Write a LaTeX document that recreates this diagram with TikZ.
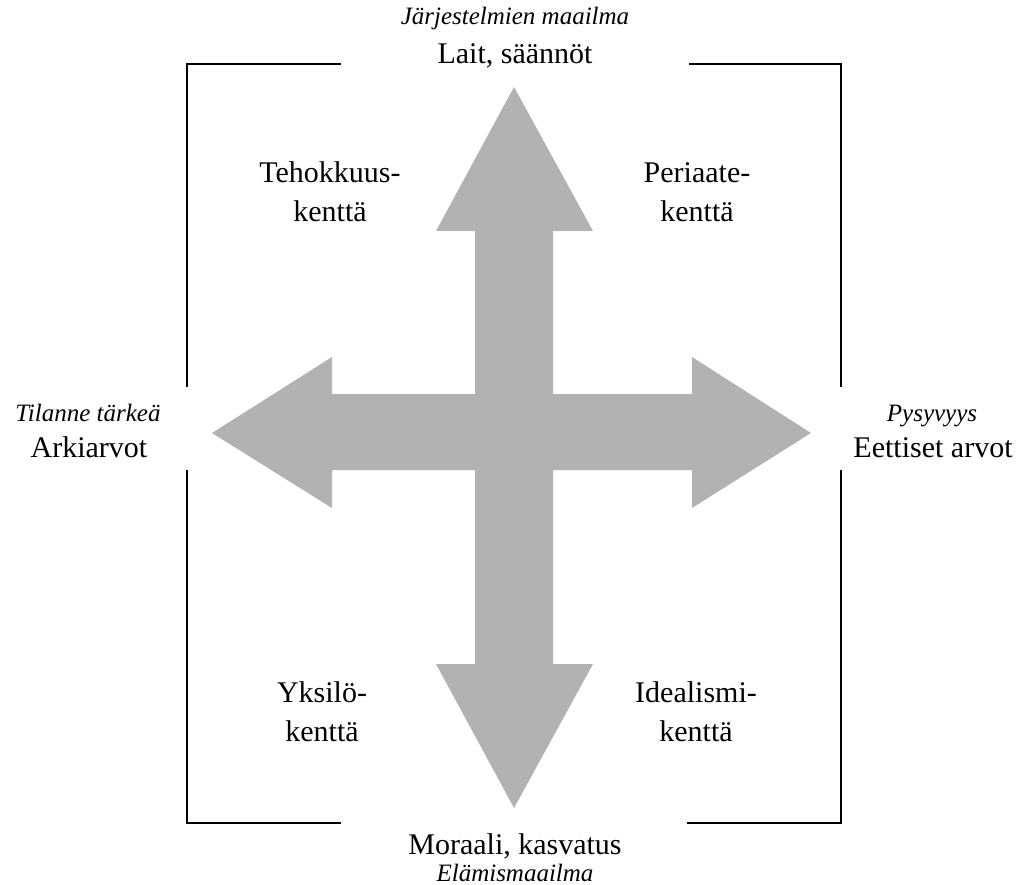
\documentclass[tikz,border=0pt]{standalone}
\usepackage{fontspec}
\setmainfont{Liberation Serif}
\begin{document}
\begin{tikzpicture}[x=1pt,y=-1pt,
  bigtxt/.style={inner sep=0pt,font=\fontsize{30}{39}\selectfont},
  smalltxt/.style={inner sep=0pt,font=\fontsize{25}{30}\selectfont\itshape},
  quad/.style={inner sep=0pt,align=center,font=\fontsize{30}{39}\selectfont},
  bracket/.style={line width=2.5pt,line join=miter}]
\useasboundingbox (0,0) rectangle (1022,885);
% cross of four arrows
\fill[black!30]
  (514,87) -- (593,231) -- (553,231) -- (553,394) -- (692,394) -- (692,357)
  -- (811,433) -- (692,508) -- (692,470) -- (553,470) -- (553,664) -- (593,664)
  -- (514,808) -- (436,664) -- (475,664) -- (475,470) -- (332,470) -- (332,508)
  -- (212,433) -- (332,357) -- (332,394) -- (475,394) -- (475,231) -- (436,231)
  -- cycle;
% brackets
\draw[bracket] (341,64) -- (187,64) -- (187,387);
\draw[bracket] (689,64) -- (841,64) -- (841,387);
\draw[bracket] (187,470) -- (187,823) -- (341,823);
\draw[bracket] (687,823) -- (841,823) -- (841,470);
% top
\node[smalltxt,anchor=base] (topsub) at (515,25) {Järjestelmien maailma};
\node[bigtxt,anchor=base] (top) at (515,64) {Lait, säännöt};
% bottom
\node[bigtxt,anchor=base] (bot) at (515,854) {Moraali, kasvatus};
\node[smalltxt,anchor=base] (botsub) at (515,881) {Elämismaailma};
% left
\node[smalltxt,anchor=base] (leftsub) at (88,421) {Tilanne tärkeä};
\node[bigtxt,anchor=base] (left) at (89,457) {Arkiarvot};
% right
\node[smalltxt,anchor=base] (rightsub) at (932,421) {Pysyvyys};
\node[bigtxt,anchor=base] (right) at (933,457) {Eettiset arvot};
% quadrants
\node[quad] (q1) at (330,192) {Tehokkuus-\\kenttä};
\node[quad] (q2) at (697,192) {Periaate-\\kenttä};
\node[quad] (q3) at (322,712) {Yksilö-\\kenttä};
\node[quad] (q4) at (696,712) {Idealismi-\\kenttä};
\end{tikzpicture}
\end{document}
